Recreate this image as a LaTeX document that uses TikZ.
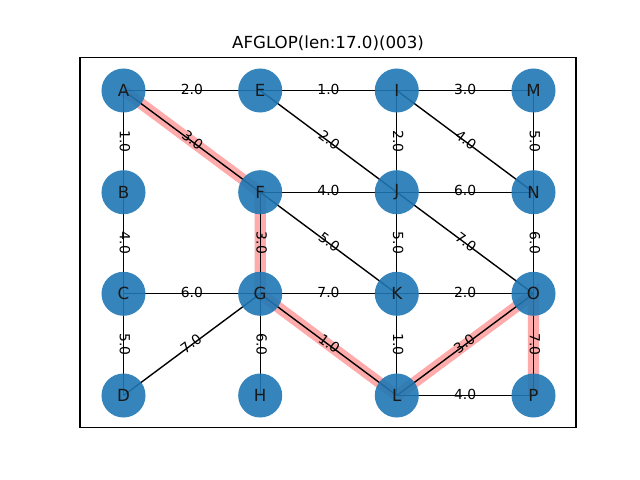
\documentclass[tikz,border=0pt]{standalone}
\usepackage{fontspec}
\setmainfont{DejaVu Sans}
\begin{document}
\begin{tikzpicture}[x=0.72pt,y=-0.72pt,
  vertex/.style={circle, minimum size=31.7pt, inner sep=0pt,
    fill={rgb,255:red,31;green,119;blue,180}, fill opacity=0.9, text opacity=1,
    font=\fontsize{12}{14}\selectfont, text=black!90},
  edge/.style={draw=black, line width=1pt},
  route/.style={draw=red, draw opacity=0.33, line width=8pt},
  elabel/.style={font=\fontsize{10}{12}\selectfont, inner sep=0pt, anchor=center},
  frame/.style={draw=black, line width=0.8pt}]
\useasboundingbox (0,0) rectangle (640,480);

% axes frame and title
\draw[frame] (80,57.6) rectangle (576,427.2);
\node[font=\fontsize{12}{14}\selectfont] (title) at (328,43) {AFGLOP(len:17.0)(003)};

% vertex positions
\coordinate (pA) at (123.5,90.5);  \coordinate (pE) at (260.2,90.5);
\coordinate (pI) at (396.8,90.5);  \coordinate (pM) at (533.5,90.5);
\coordinate (pB) at (123.5,192.2); \coordinate (pF) at (260.2,192.2);
\coordinate (pJ) at (396.8,192.2); \coordinate (pN) at (533.5,192.2);
\coordinate (pC) at (123.5,293.8); \coordinate (pG) at (260.2,293.8);
\coordinate (pK) at (396.8,293.8); \coordinate (pO) at (533.5,293.8);
\coordinate (pD) at (123.5,395.5); \coordinate (pH) at (260.2,395.5);
\coordinate (pL) at (396.8,395.5); \coordinate (pP) at (533.5,395.5);

% highlighted route A-F-G-L-O-P
\draw[route] (pA) -- (pF) -- (pG) -- (pL) -- (pO) -- (pP);

% edges
\foreach \u/\v in {A/E,E/I,I/M,A/B,A/F,E/J,I/J,I/N,M/N,B/C,F/J,J/N,F/G,F/K,
                   J/K,J/O,N/O,C/G,G/K,K/O,C/D,D/G,G/H,G/L,K/L,L/O,O/P,L/P}
  \draw[edge] (p\u) -- (p\v);

% vertices
\foreach \n in {A,B,C,D,E,F,G,H,I,J,K,L,M,N,O,P}
  \node[vertex] (\n) at (p\n) {\n};

% edge weights
\foreach \u/\v/\w/\r in {A/E/2.0/0, E/I/1.0/0, I/M/3.0/0, F/J/4.0/0, J/N/6.0/0,
    C/G/6.0/0, G/K/7.0/0, K/O/2.0/0, L/P/4.0/0,
    A/B/1.0/-90, I/J/2.0/-90, M/N/5.0/-90, B/C/4.0/-90, F/G/3.0/-90, J/K/5.0/-90,
    N/O/6.0/-90, C/D/5.0/-90, G/H/6.0/-90, K/L/1.0/-90, O/P/7.0/-90,
    A/F/3.0/-36.65, E/J/2.0/-36.65, I/N/4.0/-36.65, F/K/5.0/-36.65,
    J/O/7.0/-36.65, G/L/1.0/-36.65, D/G/7.0/36.65, L/O/3.0/36.65}
  \path (\u) -- (\v) node[midway, elabel, rotate=\r, yshift=1pt] {\w};
\end{tikzpicture}
\end{document}
